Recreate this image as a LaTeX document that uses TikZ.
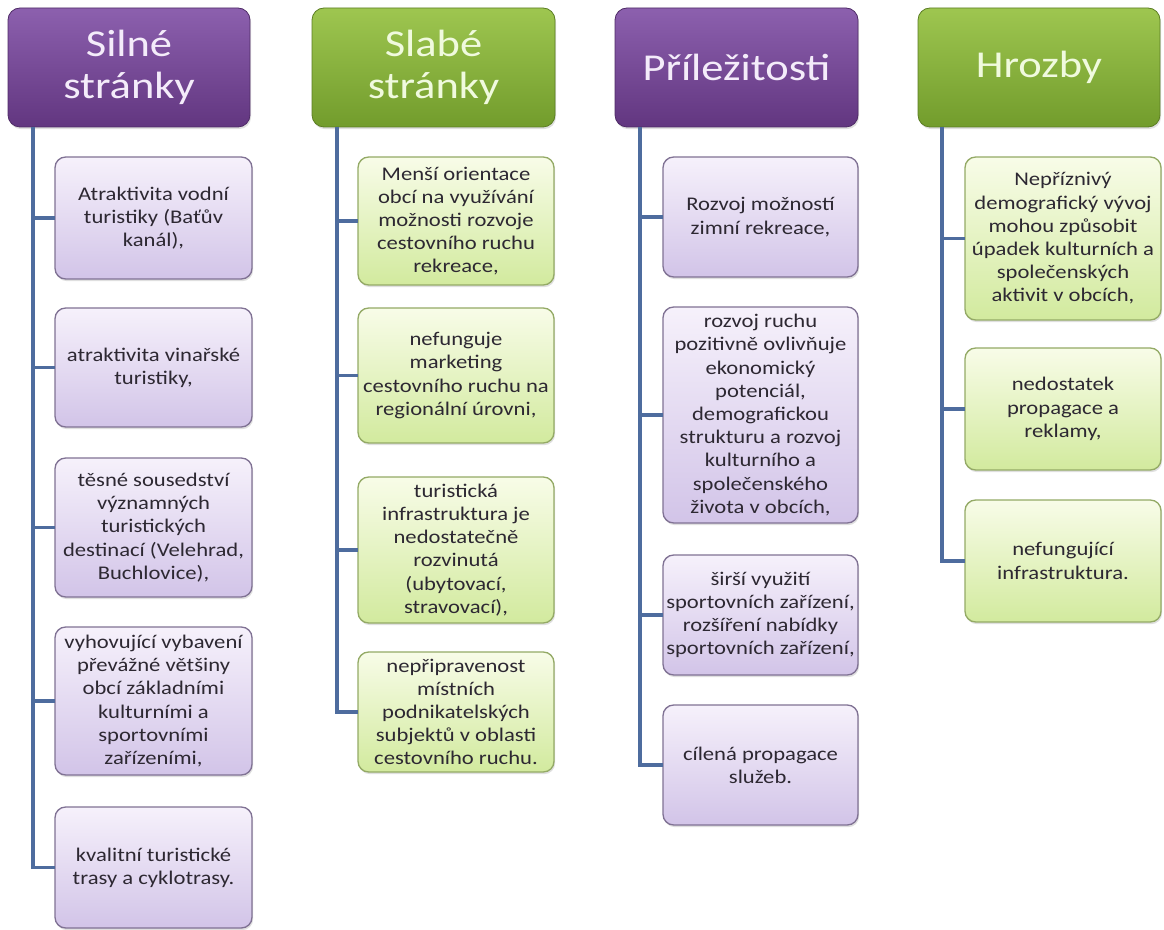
\documentclass[tikz,border=0pt]{standalone}
\usepackage{fontspec}
\setmainfont[FakeStretch=1.17]{Carlito}
\usetikzlibrary{shadows}
\definecolor{purTop}{RGB}{140,96,174}
\definecolor{purBot}{RGB}{98,54,128}
\definecolor{grnTop}{RGB}{158,198,80}
\definecolor{grnBot}{RGB}{114,156,44}
\definecolor{lpTop}{RGB}{246,241,251}
\definecolor{lpBot}{RGB}{210,196,232}
\definecolor{lpLine}{RGB}{128,114,148}
\definecolor{lgTop}{RGB}{248,252,232}
\definecolor{lgBot}{RGB}{210,234,158}
\definecolor{lgLine}{RGB}{148,170,102}
\definecolor{connC}{RGB}{78,108,158}
\definecolor{txtC}{RGB}{45,40,50}
\definecolor{hdrPT}{RGB}{244,236,250}
\definecolor{hdrGT}{RGB}{240,250,222}
\tikzset{
  sz/.style 2 args={minimum width={#1*0.75pt}, minimum height={#2*0.75pt}},
  base/.style={inner sep=0pt, outer sep=0pt, align=center,
    drop shadow={opacity=0.25, shadow xshift=0.8pt, shadow yshift=-1.6pt}},
  hdrP/.style={base, rounded corners=9pt, draw=purBot!80!black, line width=0.6pt,
    top color=purTop, bottom color=purBot, text=hdrPT,
    font=\fontsize{28.5}{32}\selectfont},
  hdrG/.style={base, rounded corners=9pt, draw=grnBot!80!black, line width=0.6pt,
    top color=grnTop, bottom color=grnBot, text=hdrGT,
    font=\fontsize{28.5}{32}\selectfont},
  itemP/.style={base, rounded corners=8pt, draw=lpLine, line width=1pt,
    top color=lpTop, bottom color=lpBot, text=txtC,
    font=\fontsize{14.5}{17.4}\selectfont},
  itemG/.style={base, rounded corners=8pt, draw=lgLine, line width=1pt,
    top color=lgTop, bottom color=lgBot, text=txtC,
    font=\fontsize{14.5}{17.4}\selectfont},
  conn/.style={draw=connC, line width=2.8pt},
}
\begin{document}
\begin{tikzpicture}[x=0.75pt, y=-0.75pt]
\useasboundingbox (0,0) rectangle (1164,930);
% headers
\node[hdrP, sz={242}{119}] (H1) at (129,67.5) {Silné\\stránky};
\node[hdrG, sz={243}{119}] (H2) at (433.5,67.5) {Slabé\\stránky};
\node[hdrP, sz={243}{119}] (H3) at (736.5,67.5) {Příležitosti};
\node[hdrG, sz={242}{119}] (H4) at (1039,67.5) {Hrozby};
% trunk starts
\coordinate (a1) at ([xshift=18.75pt]H1.south west);
\coordinate (a2) at ([xshift=18.75pt]H2.south west);
\coordinate (a3) at ([xshift=18.75pt]H3.south west);
\coordinate (a4) at ([xshift=18pt]H4.south west);
% Silné stránky
\node[itemP, sz={197}{122}] (s1) at (153.5,218) {Atraktivita vodní\\turistiky (Baťův\\kanál),};
\node[itemP, sz={197}{119}] (s2) at (153.5,367.5) {atraktivita vinařské\\turistiky,};
\node[itemP, sz={197}{139}] (s3) at (153.5,527.5) {těsné sousedství\\významných\\turistických\\destinací (Velehrad,\\Buchlovice),};
\node[itemP, sz={197}{148}] (s4) at (153.5,701) {vyhovující vybavení\\převážné většiny\\obcí základními\\kulturními a\\sportovními\\zařízeními,};
\node[itemP, sz={197}{121}] (s5) at (153.5,867.5) {kvalitní turistické\\trasy a cyklotrasy.};
% Slabé stránky
\node[itemG, sz={196}{128}] (w1) at (456,221) {Menší orientace\\obcí na využívání\\možnosti rozvoje\\cestovního ruchu\\rekreace,};
\node[itemG, sz={196}{135}] (w2) at (456,375.5) {nefunguje\\marketing\\cestovního ruchu na\\regionální úrovni,};
\node[itemG, sz={196}{146}] (w3) at (456,550) {turistická\\infrastruktura je\\nedostatečně\\rozvinutá\\(ubytovací,\\stravovací),};
\node[itemG, sz={196}{120}] (w4) at (456,712) {nepřipravenost\\místních\\podnikatelských\\subjektů v oblasti\\cestovního ruchu.};
% Příležitosti
\node[itemP, sz={195}{120}] (o1) at (760.5,217) {Rozvoj možností\\zimní rekreace,};
\node[itemP, sz={195}{216}] (o2) at (760.5,415) {rozvoj ruchu\\pozitivně ovlivňuje\\ekonomický\\potenciál,\\demografickou\\strukturu a rozvoj\\kulturního a\\společenského\\života v obcích,};
\node[itemP, sz={195}{120}] (o3) at (760.5,615) {širší využití\\sportovních zařízení,\\rozšíření nabídky\\sportovních zařízení,};
\node[itemP, sz={195}{120}] (o4) at (760.5,765) {cílená propagace\\služeb.};
% Hrozby
\node[itemG, sz={196}{163}] (t1) at (1063,238.5) {Nepříznivý\\demografický vývoj\\mohou způsobit\\úpadek kulturních a\\společenských\\aktivit v obcích,};
\node[itemG, sz={196}{122}] (t2) at (1063,409) {nedostatek\\propagace a\\reklamy,};
\node[itemG, sz={196}{122}] (t3) at (1063,561) {nefungující\\infrastruktura.};
% connectors
\foreach \c in {s1,s2,s3,s4,s5}{\draw[conn] (a1) |- (\c.west);}
\foreach \c in {w1,w2,w3,w4}{\draw[conn] (a2) |- (\c.west);}
\foreach \c in {o1,o2,o3,o4}{\draw[conn] (a3) |- (\c.west);}
\foreach \c in {t1,t2,t3}{\draw[conn] (a4) |- (\c.west);}
\end{tikzpicture}
\end{document}
